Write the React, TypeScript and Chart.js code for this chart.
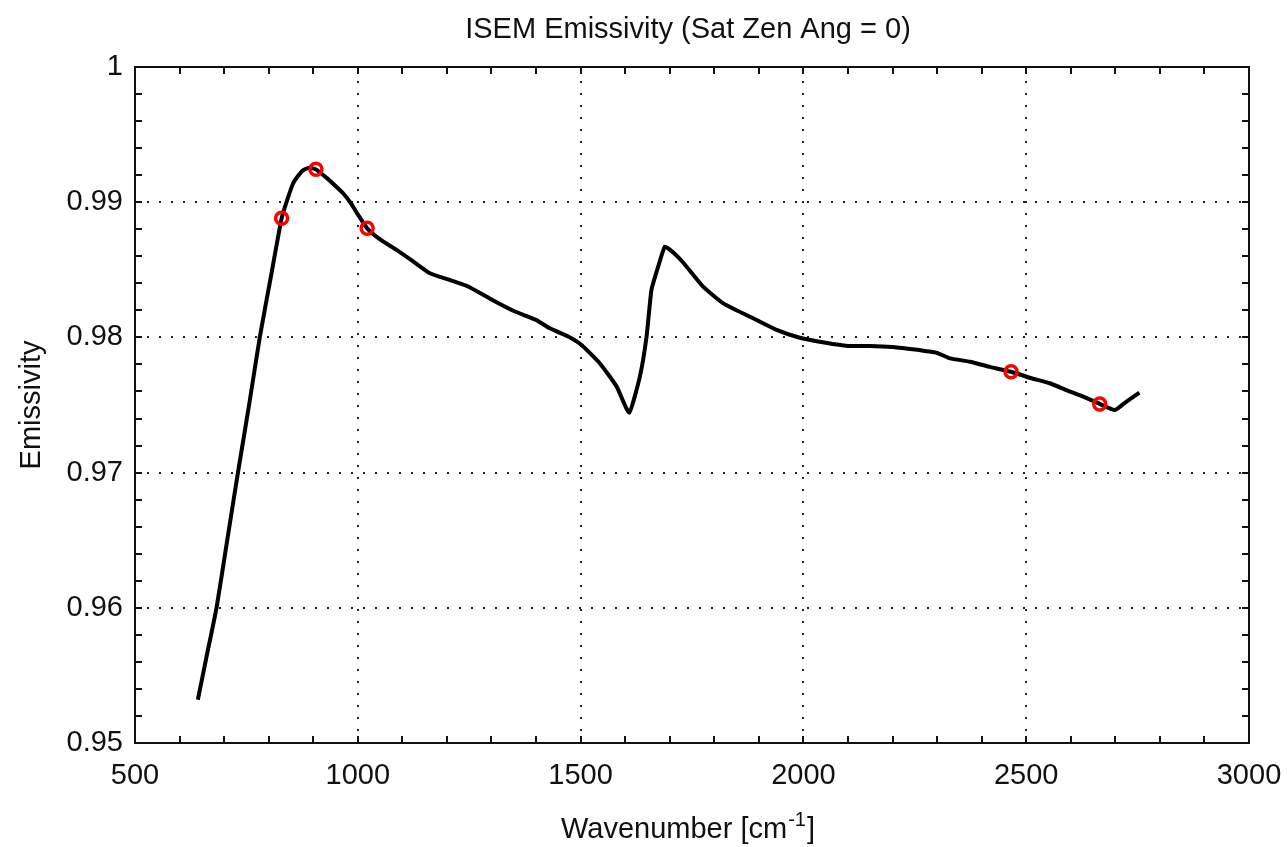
import React, { useEffect, useRef } from "react";
import { Chart, registerables } from "chart.js";

Chart.register(...registerables);

const wavenumber = [
  641, 660, 683, 706, 731, 756, 780, 805, 829, 842, 855, 867, 878, 892, 906, 930, 950, 967, 985,
  1001, 1021, 1050, 1087, 1125, 1162, 1210, 1250, 1300, 1350, 1400, 1431, 1470, 1502, 1543, 1581,
  1609, 1633, 1648, 1659, 1674, 1689, 1701, 1720, 1738, 1775, 1820, 1880, 1940, 1988, 2050, 2100,
  2150, 2200, 2250, 2300, 2329, 2374, 2420, 2466, 2510, 2553, 2590, 2628, 2665, 2699, 2725, 2754,
];
const emissivity = [
  0.9532, 0.9563, 0.96, 0.9648, 0.97, 0.975, 0.98, 0.9845, 0.9888, 0.9902, 0.9914, 0.992, 0.99238,
  0.99255, 0.99243, 0.9918, 0.9912, 0.99066, 0.9899, 0.98905, 0.98807, 0.98725, 0.98647, 0.9856,
  0.98474, 0.9842, 0.98373, 0.9828, 0.98195, 0.9813, 0.98067, 0.9801, 0.97944, 0.97809, 0.97636,
  0.97443, 0.9771, 0.98005, 0.98351, 0.98523, 0.98671, 0.98647, 0.9859, 0.98523, 0.98375, 0.98252,
  0.98153, 0.98055, 0.98001, 0.9796, 0.97937, 0.97937, 0.97929, 0.9791, 0.97885, 0.97845, 0.9782,
  0.9778, 0.97746, 0.977, 0.97661, 0.9761, 0.97562, 0.97508, 0.97463, 0.97525, 0.97591,
];
const markerX = [829, 906, 1021, 2466, 2665];
const markerY = [0.98881, 0.99243, 0.98807, 0.97746, 0.97508];

const xMin = 500;
const xMax = 3000;
const xMajor = 500;
const xMinor = 100;
const yMin = 0.95;
const yMax = 1;
const yMajor = 0.01;
const yMinor = 0.002;

const titleText = "ISEM Emissivity (Sat Zen Ang = 0)";
const yTitle = "Emissivity";
const xTitleMain = "Wavenumber [cm";
const xTitleSup = "-1";
const xTitleEnd = "]";

const FONT = '"Liberation Sans", Arial, sans-serif';
const INK = "#111";

const framePlugin = {
  id: "framePlugin",
  beforeDatasetsDraw(chart: any) {
    const { ctx, chartArea: a, scales } = chart;
    const xs = scales.x;
    const ys = scales.y;
    ctx.save();
    ctx.strokeStyle = "#222";
    ctx.lineWidth = 2;
    ctx.setLineDash([2, 10]);
    for (let v = xMin + xMajor; v < xMax; v += xMajor) {
      const px = Math.round(xs.getPixelForValue(v));
      ctx.beginPath();
      ctx.moveTo(px, a.bottom);
      ctx.lineTo(px, a.top);
      ctx.stroke();
    }
    for (let i = 1; i < Math.round((yMax - yMin) / yMajor); i++) {
      const py = Math.round(ys.getPixelForValue(yMin + i * yMajor));
      ctx.beginPath();
      ctx.moveTo(a.left, py);
      ctx.lineTo(a.right, py);
      ctx.stroke();
    }
    ctx.restore();
  },
  afterDatasetsDraw(chart: any) {
    const { ctx, chartArea: a, scales } = chart;
    const xs = scales.x;
    const ys = scales.y;
    ctx.save();
    ctx.strokeStyle = "#111";
    ctx.lineWidth = 2;
    ctx.setLineDash([]);
    const tl = 7;
    for (let v = xMin + xMinor; v < xMax; v += xMinor) {
      const px = Math.round(xs.getPixelForValue(v));
      ctx.beginPath();
      ctx.moveTo(px, a.bottom);
      ctx.lineTo(px, a.bottom - tl);
      ctx.moveTo(px, a.top);
      ctx.lineTo(px, a.top + tl);
      ctx.stroke();
    }
    const nY = Math.round((yMax - yMin) / yMinor);
    for (let i = 1; i < nY; i++) {
      const py = Math.round(ys.getPixelForValue(yMin + i * yMinor));
      ctx.beginPath();
      ctx.moveTo(a.left, py);
      ctx.lineTo(a.left + tl, py);
      ctx.moveTo(a.right, py);
      ctx.lineTo(a.right - tl, py);
      ctx.stroke();
    }
    ctx.strokeRect(a.left, a.top, a.right - a.left, a.bottom - a.top);
    ctx.restore();
  },
  afterDraw(chart: any) {
    const { ctx, chartArea: a } = chart;
    ctx.save();
    ctx.fillStyle = INK;
    ctx.font = `29px ${FONT}`;
    ctx.textAlign = "center";
    ctx.textBaseline = "alphabetic";
    ctx.fillText(titleText, 688, 38);

    // x title with superscript
    ctx.textAlign = "left";
    const w1 = ctx.measureText(xTitleMain).width;
    ctx.font = `20px ${FONT}`;
    const w2 = ctx.measureText(xTitleSup).width;
    ctx.font = `29px ${FONT}`;
    const w3 = ctx.measureText(xTitleEnd).width;
    const total = w1 + w2 + w3 + 2;
    const x0 = 688 - total / 2;
    const base = 838;
    ctx.fillText(xTitleMain, x0, base);
    ctx.font = `20px ${FONT}`;
    ctx.fillText(xTitleSup, x0 + w1 + 1, base - 12);
    ctx.font = `29px ${FONT}`;
    ctx.fillText(xTitleEnd, x0 + w1 + w2 + 2, base);

    // y title
    ctx.translate(32, (a.top + a.bottom) / 2);
    ctx.rotate(-Math.PI / 2);
    ctx.textAlign = "center";
    ctx.textBaseline = "middle";
    ctx.fillText(yTitle, 0, 0);
    ctx.restore();
  },
};

export default function App() {
  const ref = useRef<HTMLCanvasElement | null>(null);
  useEffect(() => {
    document.body.style.margin = "0";
    document.body.style.overflow = "hidden";
    const canvas = ref.current;
    if (!canvas) return;
    const chart = new Chart(canvas, {
      type: "line",
      data: {
        datasets: [
          {
            label: "emissivity",
            data: wavenumber.map((x, i) => ({ x, y: emissivity[i] })),
            borderColor: "#000",
            borderWidth: 4,
            pointRadius: 0,
            tension: 0.15,
            fill: false,
            order: 2,
          },
          {
            label: "channels",
            data: markerX.map((x, i) => ({ x, y: markerY[i] })),
            showLine: false,
            pointStyle: "circle",
            pointRadius: 6,
            pointBorderWidth: 3.5,
            pointBorderColor: "#ff0000",
            pointBackgroundColor: "rgba(0,0,0,0)",
            borderColor: "#ff0000",
            order: 1,
          },
        ],
      },
      options: {
        responsive: false,
        devicePixelRatio: 1,
        animation: false,
        layout: { padding: { top: 67, right: 38, left: 0, bottom: 0 } },
        plugins: {
          legend: { display: false },
          title: { display: false },
          tooltip: { enabled: false },
        },
        scales: {
          x: {
            type: "linear",
            min: xMin,
            max: xMax,
            grid: { display: false, drawTicks: false },
            border: { display: false },
            ticks: {
              stepSize: xMajor,
              padding: 16,
              color: INK,
              font: { family: FONT, size: 29 },
              maxRotation: 0,
              callback: (v: any) => String(v),
            },
            afterFit: (s: any) => {
              s.height = 104;
              s.paddingLeft = 0;
              s.paddingRight = 0;
            },
          },
          y: {
            type: "linear",
            min: yMin,
            max: yMax,
            grid: { display: false, drawTicks: false },
            border: { display: false },
            ticks: {
              stepSize: yMajor,
              padding: 12,
              color: INK,
              font: { family: FONT, size: 29 },
              callback: (v: any) => String(Number(Number(v).toFixed(2))),
            },
            afterFit: (s: any) => {
              s.width = 135;
              s.paddingTop = 0;
              s.paddingBottom = 0;
            },
          },
        },
      },
      plugins: [framePlugin],
    } as any);
    return () => chart.destroy();
  }, []);
  return (
    <div style={{ width: 1287, height: 847, background: "#fff" }}>
      <canvas ref={ref} width={1287} height={847} style={{ display: "block" }} />
    </div>
  );
}
